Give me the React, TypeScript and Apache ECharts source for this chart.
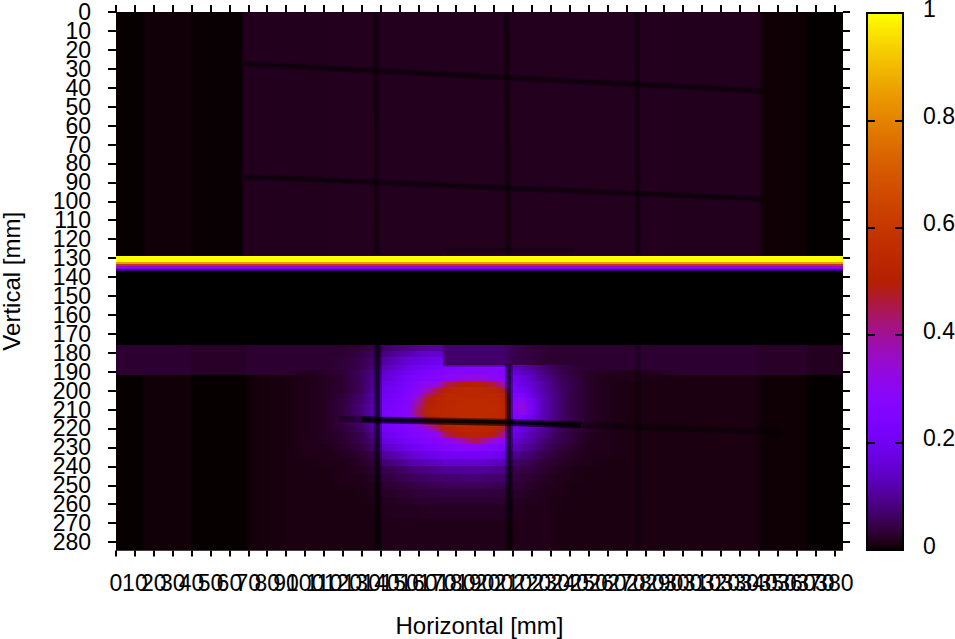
import React, { useEffect, useRef } from "react";
import * as echarts from "echarts";

// ---- axis ticks ----
const xTickValues = [0,10,20,30,40,50,60,70,80,90,100,110,120,130,140,150,160,170,180,190,200,210,220,230,240,250,260,270,280,290,300,310,320,330,340,350,360,370,380];
const yTickValues = [0,10,20,30,40,50,60,70,80,90,100,110,120,130,140,150,160,170,180,190,200,210,220,230,240,250,260,270,280];
const barTickValues = [0,0.2,0.4,0.6,0.8,1];
const X_MAX = 384.6;
const Y_MAX = 284.5;

// ---- intensity, in percent of full scale ----
const upperXs = [0,14,16,39,41,66,68,130,200,270,340,342,365,367,384.6];
const upperVals = [0.05,0.05,0.5,0.5,0.1,0.1,1.8,1.9,1.9,1.9,1.8,0.4,0.3,0.02,0.02];
const upperEdges = [0,128.9];

// laser line: [top, bottom, value]
const lineRows = [
  [128.9,132,100],
  [132,133,85],
  [133,134,60],
  [134,135,33],
  [135,136,20],
  [136,137,7],
  [137,175.8,0],
];

const lowerLeftXs = [0,14,15,39,40,68,70,80,90];
const lowerLeftVals = [0.05,0.05,0.5,0.5,0.05,0.05,0.5,0.8,1];
const bandLeftVals = [3,3,3,3,2.5,2.5,3,3,3];
const lowerRightXs = [300,338,342,365,367,384.6];
const lowerRightVals = [1,1,0.3,0.3,0.02,0.02];
const bandRightVals = [3,3,2.5,2.5,2,2];

const blobXs = [100,110,120,130,137,140,145,150,155,160,165,170,172.5,174,180,185,190,195,200,205,207,209.5,215,220,225,230,235,240,250,260,275];
const blobEdges = [175.8,179,182,186.5,189,192,195,198,201,204,207,210,213,216,219,222,225,228,232,236,240,244,248,252,256,260,268,284.5];
const blobRows = [
  [3,3,3,3.5,5, 6,7,8,9,10,11,11,11, 7,7,7,7,7,7,7,6, 5,4.5,4,3.5,3,3,3,3,3,3],
  [3,3,3,4.5,6, 8,9,11,12,14,15,15,15, 7,7,7,7,7,7,7,6, 5,4.5,4,3.5,3,3,3,3,3,3],
  [3,3,3.5,5,7, 10,12,14,16,17,18,19,20, 7,7,7,7,7,7,7,6, 5,4.5,4,3.5,3,3,3,3,3,3],
  [3,3,3.5,5,8, 12,14,16,18,20,21,22,23, 26,26,27,27,27,27,27,25, 14,12,10,8,6,5,4,3,3,3],
  [2,2.5,3.5,6,9, 14,16,18,20,22,24,25,26, 27,28,28,28,28,28,27,25, 17,14,12,9,7,5,4,2.5,2,1.5],
  [1.5,2,3,6,10, 16,17,20,22,24,26,27,27, 29,30,32,33,32,30,28,27, 20,17,14,10,8,6,4.5,2.5,1.5,1.5],
  [1.5,2,3,6,10, 18,19,21,24,27,30,33,38, 44,48,50,51,49,46,38,30, 22,18,15,12,9,6,5,2.5,1.5,1],
  [1.5,2,3,6,11, 19,20,22,25,29,36,45,49, 51,53,54,54,53,52,48,40, 23,20,16,12,9,7,5,2.5,1.5,1],
  [1.5,2,3.5,7,12, 20,21,23,26,33,45,51,52, 53,54,54,54,54,54,52,47, 24,24,18,13,10,7,5,2.5,1.5,1],
  [1.5,2,4,7,12, 21,22,24,27,38,49,52,53, 54,54,55,55,55,54,53,50, 25,30,21,14,10,7,5,2.5,1.5,1],
  [1.5,2,4,8,13, 22,23,25,28,42,51,53,53, 54,55,55,55,55,55,54,51, 26,33,22,14,10,7,5,2.5,1.5,1],
  [1.5,2,4,8,13, 23,24,26,29,45,52,53,54, 54,55,55,55,55,55,54,52, 26,31,21,14,10,7,5,2.5,1.5,1],
  [1.5,2,4,7,12, 23,24,26,28,38,49,52,53, 54,54,55,55,55,54,53,50, 25,25,19,13,10,7,5,2.5,1.5,1],
  [1.5,2,4,7,12, 22,23,25,27,30,40,47,50, 52,53,54,54,54,53,50,43, 22,20,16,12,9,6,5,2.5,1.5,1],
  [1.5,2,3.5,6,11, 21,22,24,26,28,32,42,47, 49,52,53,53,53,52,47,40, 21,17,14,11,8,6,4.5,2.5,1.5,1],
  [1.5,2,3,5,10, 19,20,22,24,26,28,32,38, 44,49,51,52,51,49,42,32, 19,15,12,10,7,5,4,2,1.5,1],
  [1.5,2,3,5,8, 17,18,20,22,24,25,27,28, 29,34,40,46,40,33,29,26, 16,13,11,8,6,5,4,2,1.5,1],
  [1.5,1.5,2.5,4,7, 14,15,17,19,21,23,24,25, 26,27,27,28,27,26,24,22, 14,11,9,7,5,4,3,1.5,1.5,1],
  [1.5,1.5,2,3,5, 10,11,13,15,17,18,19,20, 20,21,21,21,21,20,18,16, 10,8,7,5,4,3,2.5,1.5,1.5,1],
  [1,1.5,1.5,2.5,4, 7,8,9,11,12,13,14,14, 15,15,15,15,15,14,13,11, 7,6,5,4,3,2.5,2,1.5,1,1],
  [1,1,1.5,2,3, 5,5,6,7,8,8,9,9, 10,10,10,10,10,9,9,8, 5,4.5,4,3,2.5,2,1.5,1,1,1],
  [1,1,1.5,1.5,2.5, 4,4,5,5.5,6,6.5,7,7, 7,7,7.5,7.5,7,7,7,6, 4.5,3.5,3,2.5,2,1.5,1.5,1,1,1],
  [1,1,1.2,1.5,2, 3,3,3.5,4,4.5,5,5,5, 5.5,5.5,5.5,5.5,5.5,5,5,4.5, 3.5,3,2.5,2,2,1.5,1,1,1,1],
  [1,1,1,1.2,1.8, 2.5,2.5,3,3,3.5,3.5,4,4, 4,4,4,4,4,4,3.5,3.5, 3,2.5,2,2,1.5,1.5,1,1,1,1],
  [1,1,1,1.2,1.5, 2,2,2.5,2.5,3,3,3,3, 3,3,3,3,3,3,3,2.5, 2.5,2,2,1.5,1.5,1.2,1,1,1,1],
  [1,1,1,1,1.2, 1.8,1.8,2,2,2,2.2,2.2,2.2, 2.2,2.2,2.2,2.2,2.2,2.2,2.2,2, 2,1.8,1.5,1.5,1.5,1.2,1,1,1,1],
  [1,1,1,1,1, 1.5,1.5,1.5,1.5,1.5,1.5,1.5,1.5, 1.5,1.5,1.5,1.5,1.5,1.5,1.5,1.5, 1.5,1.5,1.5,1.5,1.5,1.2,1,1,1,1],
];

// ---- dark shadow lines of the detector mask: [mm, mm] ----
const shadowH1 = [[68,27.4],[129,30.6],[332,41.2],[342,41.8]];
const shadowH2 = [[68,87],[129,89.6],[332,98.4],[342,98.9]];
const shadowV1 = [[137.6,0],[137.9,128]];
const shadowV2 = [[206.8,0],[207.6,128]];
const shadowV3 = [[275.5,0],[276,128]];
const shadowFaint = [[172,125.7],[243,125.7]];
const shadowLowV1 = [[138.4,176],[138.7,284]];
const shadowLowV2 = [[207.8,186.5],[208.2,284]];
const shadowLowV3 = [[276,176],[276.4,284]];
const shadowLowH = [[130,215.2],[138,215.5],[208,216.7],[246,218.2]];
const shadowLowHEnds = [[118,215],[130,215.2],[246,218.2],[351,222]];
const boxEdge = [[173,186.5],[207,186.5]];

// ---- palette (gnuplot 7,5,15) ----
function paletteColor(v: number) {
  const t = Math.max(0, Math.min(1, v));
  const r = Math.sqrt(t);
  const g = t * t * t;
  const b = Math.max(0, Math.sin(2 * Math.PI * t));
  const c = (n: number) => Math.round(n * 255);
  return `rgb(${c(r)},${c(g)},${c(b)})`;
}

type Row = { y0: number; y1: number; xs: number[]; vs: number[] };
const rows: Row[] = [];
rows.push({ y0: upperEdges[0], y1: upperEdges[1], xs: upperXs, vs: upperVals });
lineRows.forEach(([y0, y1, v]) => rows.push({ y0, y1, xs: [0, X_MAX], vs: [v, v] }));
blobRows.forEach((blob, i) => {
  const y0 = blobEdges[i];
  const band = y0 < 190;
  rows.push({
    y0,
    y1: blobEdges[i + 1],
    xs: [...lowerLeftXs, ...blobXs, ...lowerRightXs],
    vs: [...(band ? bandLeftVals : lowerLeftVals), ...blob, ...(band ? bandRightVals : lowerRightVals)],
  });
});

const rowFills = rows.map((r) => {
  const span = r.xs[r.xs.length - 1] - r.xs[0];
  const stops = r.xs.map((x, i) => ({ offset: (x - r.xs[0]) / span, color: paletteColor(r.vs[i] / 100) }));
  return new echarts.graphic.LinearGradient(0, 0, 1, 0, stops);
});
const barFill = new echarts.graphic.LinearGradient(
  0, 1, 0, 0,
  Array.from({ length: 101 }, (_, i) => ({ offset: i / 100, color: paletteColor(i / 100) }))
);

const FONT = "Liberation Sans";
const FS = 23;
const noLine = { show: false, onZero: false };

function shadow(data: number[][], width: number, alpha: number) {
  return {
    type: "line", xAxisIndex: 0, yAxisIndex: 0, data, showSymbol: false, silent: true, z: 4,
    lineStyle: { color: `rgba(0,0,0,${alpha})`, width, cap: "butt" },
  };
}

const tickStyle = { lineStyle: { color: "#000", width: 2 } };

// the labels are dense, so they are shared out over overlaid axes: ECharts would drop neighbours of the end labels
const xLabelSets = [0, 1, 2].map((k) => xTickValues.filter((_, i) => i % 3 === k));
const yLabelSets = [0, 1].map((k) => yTickValues.filter((_, i) => i % 2 === k));

export default function App() {
  const ref = useRef<HTMLDivElement>(null);
  useEffect(() => {
    const chart = echarts.init(ref.current!, undefined, { renderer: "svg" });
    chart.setOption({
      animation: false,
      backgroundColor: "#fff",
      textStyle: { fontFamily: FONT },
      grid: [
        { left: 116, top: 12, width: 727, height: 538.6, outerBoundsMode: "none", show: true, backgroundColor: "#000", borderWidth: 0 },
        { left: 867, top: 13, width: 36, height: 537, outerBoundsMode: "none" },
        { left: 867, top: 8.5, width: 36, height: 537, outerBoundsMode: "none" },
      ],
      xAxis: [
        {
          gridIndex: 0, type: "value", position: "bottom", min: 0, max: X_MAX, splitLine: { show: false }, axisLine: noLine,
          axisTick: { show: true, length: 6, customValues: xTickValues, ...tickStyle },
          axisLabel: { show: false },
          name: "Horizontal [mm]", nameLocation: "middle", nameGap: 63, nameTextStyle: { fontSize: 24, color: "#000", fontFamily: FONT },
        },
        {
          gridIndex: 0, type: "value", position: "top", min: 0, max: X_MAX, splitLine: { show: false }, axisLine: noLine,
          axisTick: { show: true, length: 7, customValues: xTickValues, ...tickStyle }, axisLabel: { show: false },
        },
        { gridIndex: 1, type: "value", min: 0, max: 1, show: false },
        { gridIndex: 2, type: "value", min: 0, max: 1, show: false },
        ...xLabelSets.map((values) => ({
          gridIndex: 0, type: "value", position: "bottom", min: 0, max: X_MAX, splitLine: { show: false }, axisLine: noLine,
          axisTick: { show: false },
          axisLabel: { customValues: values, margin: 21, fontSize: FS, color: "#000", fontFamily: FONT },
        })),
      ],
      yAxis: [
        {
          gridIndex: 0, type: "value", position: "left", inverse: true, min: 0, max: Y_MAX, splitLine: { show: false }, axisLine: noLine,
          axisTick: { show: true, length: 8, customValues: yTickValues, ...tickStyle },
          axisLabel: { show: false },
          name: "Vertical [mm]", nameLocation: "middle", nameGap: 93, nameTextStyle: { fontSize: 24, color: "#000", fontFamily: FONT },
        },
        {
          gridIndex: 0, type: "value", position: "right", inverse: true, min: 0, max: Y_MAX, splitLine: { show: false }, axisLine: noLine,
          axisTick: { show: true, length: 7, customValues: yTickValues, ...tickStyle }, axisLabel: { show: false },
        },
        {
          gridIndex: 1, type: "value", position: "right", min: 0, max: 1, z: 10, splitLine: { show: false }, axisLine: noLine,
          axisTick: { show: true, inside: true, length: 8, customValues: barTickValues, ...tickStyle },
          axisLabel: { show: false },
        },
        {
          gridIndex: 1, type: "value", position: "left", min: 0, max: 1, z: 10, splitLine: { show: false }, axisLine: noLine,
          axisTick: { show: true, inside: true, length: 8, customValues: barTickValues, ...tickStyle }, axisLabel: { show: false },
        },
        {
          gridIndex: 2, type: "value", position: "right", min: 0, max: 1, splitLine: { show: false }, axisLine: noLine,
          axisTick: { show: false },
          axisLabel: { customValues: barTickValues, margin: 20, fontSize: FS, color: "#000", fontFamily: FONT, align: "left" },
        },
        ...yLabelSets.map((values) => ({
          gridIndex: 0, type: "value", position: "left", inverse: true, min: 0, max: Y_MAX, splitLine: { show: false }, axisLine: noLine,
          axisTick: { show: false },
          axisLabel: { customValues: values, margin: 25, fontSize: FS, color: "#000", fontFamily: FONT },
        })),
      ],
      series: [
        {
          type: "custom", xAxisIndex: 0, yAxisIndex: 0, silent: true, z: 2, clip: true,
          encode: { x: [0, 2], y: [1, 3] },
          data: rows.map((r) => [r.xs[0], r.y0, r.xs[r.xs.length - 1], r.y1]),
          renderItem: (params: any, api: any) => {
            const a = api.coord([api.value(0), api.value(1)]);
            const b = api.coord([api.value(2), api.value(3)]);
            const top = Math.round(a[1]);
            return {
              type: "rect",
              shape: { x: a[0], y: top, width: b[0] - a[0], height: Math.round(b[1]) - top },
              style: { fill: rowFills[params.dataIndex] },
            };
          },
        },
        shadow(shadowH1, 6, 0.3), shadow(shadowH1, 3, 0.4),
        shadow(shadowH2, 6, 0.3), shadow(shadowH2, 3, 0.4),
        shadow(shadowV1, 6, 0.25), shadow(shadowV1, 3, 0.3),
        shadow(shadowV2, 6, 0.25), shadow(shadowV2, 3, 0.3),
        shadow(shadowV3, 6, 0.25), shadow(shadowV3, 3, 0.3),
        shadow(shadowFaint, 4, 0.25),
        shadow(shadowLowV1, 8, 0.35), shadow(shadowLowV1, 4, 0.55),
        shadow(shadowLowV2, 8, 0.35), shadow(shadowLowV2, 4, 0.55),
        shadow(shadowLowV3, 6, 0.25),
        shadow(shadowLowH, 7, 0.45), shadow(shadowLowH, 3.5, 0.7),
        shadow(shadowLowHEnds, 6, 0.35),
        shadow(boxEdge, 3, 0.3),
        {
          type: "custom", xAxisIndex: 2, yAxisIndex: 2, silent: true, z: 2, clip: false,
          encode: { x: [0, 2], y: [1, 3] },
          data: [[0, 0, 1, 1]],
          renderItem: (_p: any, api: any) => {
            const a = api.coord([api.value(0), api.value(1)]);
            const b = api.coord([api.value(2), api.value(3)]);
            return {
              type: "rect",
              shape: { x: a[0], y: b[1], width: b[0] - a[0], height: a[1] - b[1] },
              style: { fill: barFill, stroke: "#000", lineWidth: 2 },
            };
          },
        },
      ],
    });
    return () => chart.dispose();
  }, []);
  return <div ref={ref} style={{ position: "absolute", left: 0, top: 0, width: 955, height: 639 }} />;
}
